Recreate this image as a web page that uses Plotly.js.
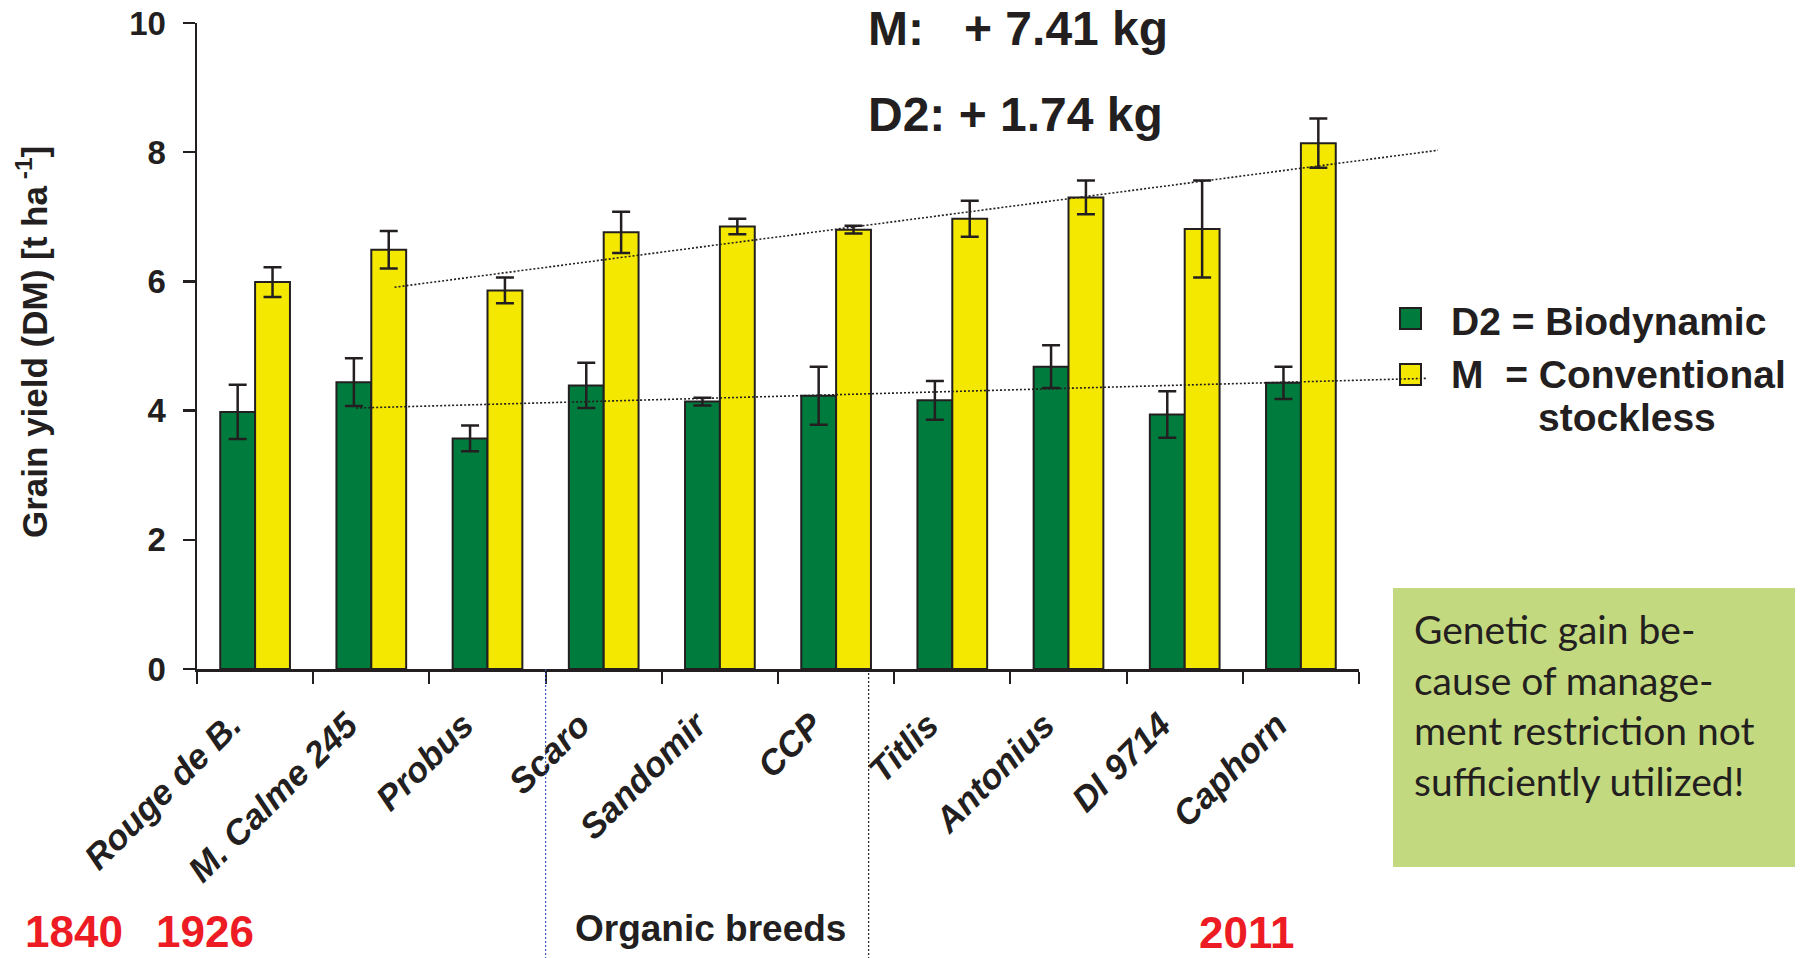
<!DOCTYPE html>
<html><head><meta charset="utf-8">
<script src="https://cdn.plot.ly/plotly-3.0.1.min.js"></script>
<style>html,body{margin:0;padding:0;background:#fff;}#chart{width:1814px;height:958px;}</style>
</head><body><div id="chart"></div>
<script>
// ---- data ----
const categories = ["Rouge de B.", "M. Calme 245", "Probus", "Scaro", "Sandomir", "CCP", "Titlis", "Antonius", "DI 9714", "Caphorn"];
const d2Yield = [3.98, 4.44, 3.57, 4.39, 4.14, 4.23, 4.16, 4.68, 3.94, 4.43];
const d2Err   = [0.42, 0.37, 0.20, 0.35, 0.06, 0.45, 0.30, 0.33, 0.36, 0.25];
const mYield  = [5.99, 6.49, 5.86, 6.76, 6.85, 6.80, 6.97, 7.30, 6.81, 8.14];
const mErr    = [0.23, 0.29, 0.20, 0.32, 0.12, 0.06, 0.28, 0.26, 0.75, 0.38];
// trend lines (category index -> yield)
const mTrendX  = [1.2, 10.18];
const mTrendY  = [5.91, 8.03];
const d2TrendX = [0.87, 10.09];
const d2TrendY = [4.04, 4.50];
const yTicks = [0, 2, 4, 6, 8, 10];
const seriesNames = ["D2 = Biodynamic", "M  = Conventional"];
const gainLabels = ["M:\u00a0\u00a0\u00a0+ 7.41 kg", "D2: + 1.74 kg"];
const yearLabels = ["1840", "1926", "2011"];
const groupLabel = "Organic breeds";
const noteText = "Genetic gain be-<br>cause of manage-<br>ment restriction not<br>sufficiently utilized!";

// ---- layout geometry ----
const W = 1814, H = 958;
const M = {l: 197, r: 300, t: 23, b: 289};
const plotW = W - M.l - M.r, plotH = H - M.t - M.b;
const axisEndPx = 1359;
const catDomainEnd = (axisEndPx - M.l) / plotW;
const nCat = categories.length;
const x2Range = [-0.5, -0.5 + nCat * plotW / (axisEndPx - M.l)];
const PX = x => (x - M.l) / plotW;          // pixel -> paper x
const PY = y => (H - M.b - y) / plotH;      // pixel -> paper y

const DARK = '#231f20';
const GREEN = '#007b3e';
const YELLOW = '#f5e800';
const ARIAL = 'Liberation Sans, Arial, sans-serif';

const traces = [
  {type: 'bar', name: seriesNames[0], x: categories, y: d2Yield,
   marker: {color: GREEN, line: {color: DARK, width: 2}},
   error_y: {type: 'data', array: d2Err, visible: true, color: DARK, thickness: 2.5, width: 9},
   xaxis: 'x', yaxis: 'y', showlegend: false, hoverinfo: 'skip'},
  {type: 'bar', name: seriesNames[1], x: categories, y: mYield,
   marker: {color: YELLOW, line: {color: DARK, width: 2}},
   error_y: {type: 'data', array: mErr, visible: true, color: DARK, thickness: 2.5, width: 9},
   xaxis: 'x', yaxis: 'y', showlegend: false, hoverinfo: 'skip'},
  {type: 'scatter', mode: 'lines', x: mTrendX, y: mTrendY, xaxis: 'x2', yaxis: 'y',
   line: {color: DARK, width: 1.6, dash: '2px,2px'}, showlegend: false, hoverinfo: 'skip'},
  {type: 'scatter', mode: 'lines', x: d2TrendX, y: d2TrendY, xaxis: 'x2', yaxis: 'y',
   line: {color: DARK, width: 1.6, dash: '2px,2px'}, showlegend: false, hoverinfo: 'skip'}
];

const annotations = [
  {text: gainLabels[0], xref: 'paper', yref: 'paper', x: PX(866), y: PY(29), xanchor: 'left', yanchor: 'middle',
   showarrow: false, font: {family: ARIAL, size: 48, weight: 'bold', color: DARK}},
  {text: gainLabels[1], xref: 'paper', yref: 'paper', x: PX(866), y: PY(115), xanchor: 'left', yanchor: 'middle',
   showarrow: false, font: {family: ARIAL, size: 48, weight: 'bold', color: DARK}},
  {text: 'Grain yield (DM) [t ha<sup> -1</sup>]', xref: 'paper', yref: 'paper', x: PX(32), y: PY(342),
   xanchor: 'center', yanchor: 'middle', textangle: -90, showarrow: false,
   font: {family: ARIAL, size: 35, weight: 'bold', color: DARK}},
  {text: seriesNames[0], xref: 'paper', yref: 'paper', x: PX(1449), y: PY(321), xanchor: 'left', yanchor: 'middle',
   showarrow: false, font: {family: ARIAL, size: 39, weight: 'bold', color: DARK}},
  {text: seriesNames[1].replace('  ', '\u00a0\u00a0'), xref: 'paper', yref: 'paper', x: PX(1449), y: PY(374), xanchor: 'left', yanchor: 'middle',
   showarrow: false, font: {family: ARIAL, size: 39, weight: 'bold', color: DARK}},
  {text: 'stockless', xref: 'paper', yref: 'paper', x: PX(1536), y: PY(418), xanchor: 'left', yanchor: 'middle',
   showarrow: false, font: {family: ARIAL, size: 39, weight: 'bold', color: DARK}},
  {text: noteText, xref: 'paper', yref: 'paper', x: PX(1412), y: PY(705), xanchor: 'left', yanchor: 'middle', align: 'left',
   showarrow: false, font: {family: 'Lato, Open Sans, sans-serif', size: 39, color: DARK}},
  {text: yearLabels[0], xref: 'paper', yref: 'paper', x: PX(74), y: PY(931), xanchor: 'center', yanchor: 'middle',
   showarrow: false, font: {family: ARIAL, size: 44, weight: 'bold', color: '#ed1c24'}},
  {text: yearLabels[1], xref: 'paper', yref: 'paper', x: PX(205), y: PY(931), xanchor: 'center', yanchor: 'middle',
   showarrow: false, font: {family: ARIAL, size: 44, weight: 'bold', color: '#ed1c24'}},
  {text: yearLabels[2], xref: 'paper', yref: 'paper', x: PX(1246), y: PY(932), xanchor: 'center', yanchor: 'middle',
   showarrow: false, font: {family: ARIAL, size: 44, weight: 'bold', color: '#ed1c24'}},
  {text: groupLabel, xref: 'paper', yref: 'paper', x: PX(710), y: PY(928), xanchor: 'center', yanchor: 'middle',
   showarrow: false, font: {family: ARIAL, size: 37, weight: 'bold', color: DARK}}
];

const shapes = [
  // era separators
  {type: 'line', xref: 'x', yref: 'paper', x0: 2.5, x1: 2.5, y0: 0, y1: -0.5,
   line: {color: '#3a5bb0', width: 1.2, dash: '2px,2px'}},
  {type: 'line', xref: 'x', yref: 'paper', x0: 5.28, x1: 5.28, y0: 0, y1: -0.5,
   line: {color: DARK, width: 1.2, dash: '2px,2px'}},
  // legend swatches
  {type: 'rect', xref: 'paper', yref: 'paper', x0: PX(1400), x1: PX(1421), y0: PY(308), y1: PY(329),
   fillcolor: GREEN, line: {color: DARK, width: 2}, layer: 'above'},
  {type: 'rect', xref: 'paper', yref: 'paper', x0: PX(1400), x1: PX(1421), y0: PY(364), y1: PY(385),
   fillcolor: YELLOW, line: {color: DARK, width: 2}, layer: 'below'},
  // note box
  {type: 'rect', xref: 'paper', yref: 'paper', x0: PX(1393), x1: PX(1795), y0: PY(588), y1: PY(867),
   fillcolor: '#c3d97f', line: {width: 0}, layer: 'below'}
];

const layout = {
  width: W, height: H,
  margin: M,
  paper_bgcolor: '#ffffff', plot_bgcolor: 'rgba(0,0,0,0)',
  barmode: 'group', bargap: 0.4, bargroupgap: 0,
  showlegend: false,
  xaxis: {type: 'category', domain: [0, catDomainEnd], range: [-0.5, nCat - 0.5], anchor: 'y',
    tickson: 'boundaries', ticks: 'outside', ticklen: 12, tickwidth: 2, tickcolor: DARK,
    showline: true, linewidth: 2.5, linecolor: DARK, showgrid: false, zeroline: false,
    tickangle: -45, ticklabelstandoff: 19, ticklabelshift: -24,
    tickfont: {family: ARIAL, size: 35, weight: 'bold', style: 'italic', color: DARK}},
  xaxis2: {domain: [0, 1], range: x2Range, anchor: 'y', visible: false, showgrid: false, zeroline: false, fixedrange: true},
  yaxis: {range: [0, 10], tickvals: yTicks, ticktext: yTicks.map(String), anchor: 'x',
    ticks: 'outside', ticklen: 12, tickwidth: 2.5, tickcolor: DARK,
    showline: true, linewidth: 2.5, linecolor: DARK, showgrid: false, zeroline: false,
    ticklabelstandoff: 10,
    tickfont: {family: ARIAL, size: 33, weight: 'bold', color: DARK}},
  annotations: annotations,
  shapes: shapes
};

Plotly.newPlot('chart', traces, layout, {staticPlot: true, displayModeBar: false});
</script>
</body></html>
